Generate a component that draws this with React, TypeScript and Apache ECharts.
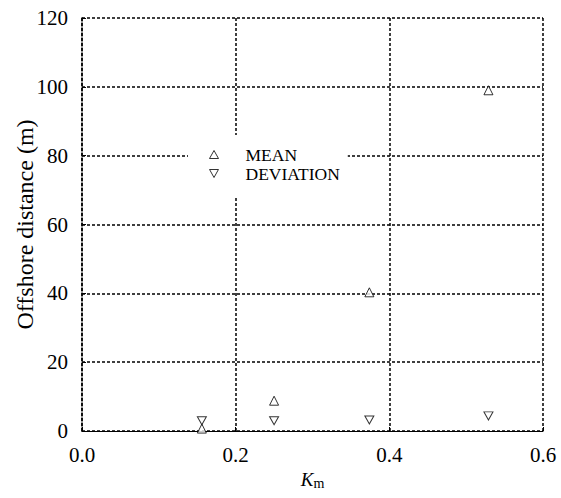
import React, { useEffect, useRef } from "react";
import * as echarts from "echarts";

const kmValues = [0.156, 0.25, 0.374, 0.529];
const meanValues = [0.7, 8.8, 40.3, 99.0];
const deviationValues = [3.0, 3.0, 3.2, 4.4];
const xTicks = [0, 0.2, 0.4, 0.6];
const yTicks = [0, 20, 40, 60, 80, 100, 120];
const seriesNames = ["MEAN", "DEVIATION"];

const FONT = "Liberation Serif";
const DOWN_TRI = "path://M0,0L10,0L5,9Z";

export default function App() {
  const ref = useRef<HTMLDivElement>(null);
  useEffect(() => {
    if (!ref.current) return;
    const chart = echarts.init(ref.current, null, { renderer: "svg" });
    const dotted = { type: [3, 2] as number[], color: "#000", width: 1.5 };
    const hollow = { color: "#fff", borderColor: "#000", borderWidth: 1 };
    chart.setOption({
      animation: false,
      backgroundColor: "#fff",
      textStyle: { fontFamily: FONT },
      grid: { left: 82, right: 18, top: 18, bottom: 67, containLabel: false, outerBoundsMode: "none" },
      legend: {
        orient: "vertical",
        left: 188,
        top: 135,
        backgroundColor: "#fff",
        padding: [10, 8, 15, 21],
        itemWidth: 9,
        itemHeight: 8,
        itemGap: 0,
        textStyle: {
          fontFamily: FONT,
          fontSize: 17.5,
          color: "#000",
          lineHeight: 19,
          padding: [0, 0, 0, 22],
        },
        data: [
          { name: seriesNames[0], icon: "triangle", itemStyle: hollow },
          { name: seriesNames[1], icon: DOWN_TRI, itemStyle: hollow },
        ],
      },
      xAxis: {
        type: "value",
        min: xTicks[0],
        max: xTicks[xTicks.length - 1],
        interval: 0.2,
        name: "{k|K}{m|m}",
        nameLocation: "middle",
        nameGap: 37,
        nameMoveOverlap: false,
        nameTextStyle: {
          fontFamily: FONT,
          rich: {
            k: { fontFamily: FONT, fontSize: 19, fontStyle: "italic", color: "#000" },
            m: { fontFamily: FONT, fontSize: 14, color: "#000", padding: [8, 0, 0, 0] },
          },
        },
        axisLine: { show: true, lineStyle: { color: "#000", width: 1 } },
        axisTick: { show: true, inside: true, length: 4, lineStyle: { color: "#000" } },
        axisLabel: {
          fontFamily: FONT,
          fontSize: 21,
          color: "#000",
          margin: 13,
          formatter: (v: number) => v.toFixed(1),
        },
        splitLine: { show: true, lineStyle: dotted },
      },
      yAxis: {
        type: "value",
        min: yTicks[0],
        max: yTicks[yTicks.length - 1],
        interval: 20,
        name: "Offshore distance (m)",
        nameLocation: "middle",
        nameGap: 45,
        nameMoveOverlap: false,
        nameTextStyle: { fontFamily: FONT, fontSize: 24, color: "#000" },
        axisLine: { show: true, lineStyle: dotted },
        axisTick: { show: true, inside: true, length: 4, lineStyle: { color: "#000" } },
        axisLabel: { fontFamily: FONT, fontSize: 21, color: "#000", margin: 14 },
        splitLine: { show: true, lineStyle: dotted },
      },
      series: [
        {
          name: seriesNames[0],
          type: "scatter",
          symbol: "triangle",
          symbolSize: 9,
          itemStyle: hollow,
          data: kmValues.map((x, i) => [x, meanValues[i]]),
          z: 5,
        },
        {
          name: seriesNames[1],
          type: "scatter",
          symbol: DOWN_TRI,
          symbolSize: [9, 8],
          itemStyle: hollow,
          data: kmValues.map((x, i) => [x, deviationValues[i]]),
          z: 5,
        },
      ],
    });
    return () => chart.dispose();
  }, []);
  return <div ref={ref} style={{ width: 561, height: 498, position: "absolute", left: 0, top: 0 }} />;
}
